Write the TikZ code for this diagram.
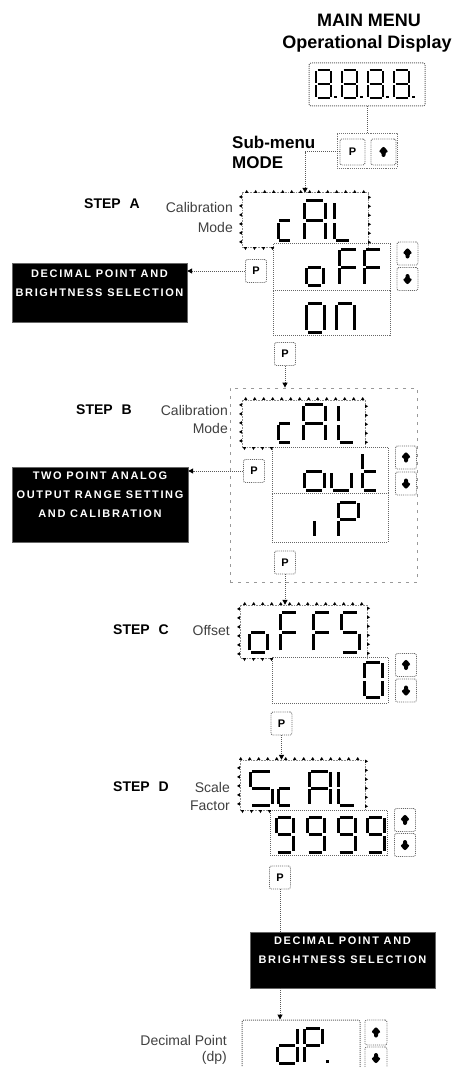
\documentclass[tikz,border=0pt]{standalone}
\usepackage{fontspec}
\setmainfont{Liberation Sans}
\newfontfamily\boxfont{Liberation Sans}[LetterSpace=15]
\usetikzlibrary{
    positioning,
    arrows.meta,
    decorations.markings
}

% segmentos de un digito (celda unidad)
\def\ssga{(0.1,1) -- (0.9,1)}
\def\ssgb{(1,0.96) -- (1,0.54)}
\def\ssgc{(1,0.46) -- (1,0.04)}
\def\ssgd{(0.1,0) -- (0.9,0)}
\def\ssge{(0,0.04) -- (0,0.46)}
\def\ssgf{(0,0.54) -- (0,0.96)}
\def\ssgg{(0.1,0.5) -- (0.9,0.5)}
\def\ssgp{(1.3,0) -- (1.3,0.08)}

\newcommand\segglyph[5]{%
    \begin{scope}[shift={(#1,#2)}, x=#3pt, y=#4pt]
        \foreach \s in {#5} {
            \edef\segcur{\csname ssg\s\endcsname}
            \draw[segline] \segcur;
        }
    \end{scope}}

\tikzset{
    >={Triangle[width=5pt,length=5pt,color=black]},
    segline/.style={line width=3pt, black},
    conn/.style={draw=black!65, densely dotted, line width=1pt},
    lcd/.style={
        draw=black!60,
        densely dotted,
        line width=1pt,
        inner sep=0pt
    },
    flashnode/.style={inner sep=0pt},
    flash/.style={
        draw=black!45,
        densely dotted,
        line width=0.6pt,
        postaction={decorate, decoration={markings,
            mark=between positions 0 and 1 step 9pt with
            {\fill[black] (-1.7pt,0) -- (1.7pt,0) -- (0,2.8pt) -- cycle;}}}
    },
    btn/.style={
        draw=black!60,
        densely dotted,
        line width=0.9pt,
        rounded corners=2pt,
        minimum width=21,
        minimum height=23,
        inner sep=0pt,
        font=\fontsize{11}{12}\selectfont\bfseries
    },
    upbtn/.style={btn, path picture={
        \fill[black] ([shift={(0,-6)}]path picture bounding box.center)
            -- ++(5,6) -- ++(-3,0) -- ++(0,5) -- ++(-4,0)
            -- ++(0,-5) -- ++(-3,0) -- cycle;}},
    dnbtn/.style={btn, path picture={
        \fill[black] ([shift={(0,6)}]path picture bounding box.center)
            -- ++(5,-6) -- ++(-3,0) -- ++(0,-5) -- ++(-4,0)
            -- ++(0,5) -- ++(-3,0) -- cycle;}},
    btngrp/.style={draw=black!55, densely dotted, line width=0.9pt},
    stepgrp/.style={draw=black!40, dash pattern=on 3pt off 5pt, line width=0.8pt},
    blackbox/.style={
        fill=black,
        draw=black!60,
        text=white,
        align=center,
        inner sep=0pt,
        font=\boxfont\fontsize{11}{19}\selectfont\bfseries
    },
    headlabel/.style={font=\fontsize{18}{20}\selectfont\bfseries, inner sep=0pt},
    sublabel/.style={font=\fontsize{17}{19}\selectfont\bfseries, inner sep=0pt, anchor=west},
    steplabel/.style={font=\fontsize{14}{16}\selectfont\bfseries, inner sep=0pt},
    thinlabel/.style={font=\fontsize{14}{16}\selectfont, text=black!75, anchor=east, inner sep=0pt}
}

\begin{document}
\begin{tikzpicture}[x=1pt, y=-1pt]

    \useasboundingbox (0,0) rectangle (453,1067);

    % Menu principal
    \node[headlabel] (mainmenu) at (369,20) {MAIN MENU};
    \node[headlabel] (opdisp)   at (367,44) {Operational Display};

    \node[lcd, rounded corners=2pt, minimum width=116, minimum height=43] (disp) at (367,84.5) {};

    \node[btngrp, minimum width=60, minimum height=35] (grpbtn) at (367,150.5) {};
    \node[btn, minimum width=25, minimum height=26]    (pmain)  at (352.5,152) {P};
    \node[upbtn, minimum width=25, minimum height=26]  (upmain) at (383.5,152) {};

    \node[sublabel] (submenu) at (232,142) {Sub-menu};
    \node[sublabel] (mode)    at (232,163) {MODE};

    % Paso A
    \node[steplabel] (stepa) at (112,204) {STEP\hspace{9pt}A};
    \node[thinlabel] (cala)  at (233,207) {Calibration};
    \node[thinlabel] (modea) at (233,227) {Mode};

    \node[flashnode, minimum width=126, minimum height=54] (calA) at (305,220) {};
    \node[lcd, minimum width=117, minimum height=46] (offA) at (331.5,267) {};
    \node[lcd, minimum width=117, minimum height=45] (onA)  at (331.5,312.5) {};
    \node[upbtn] (upA) at (407.5,253.5) {};
    \node[dnbtn] (dnA) at (407.5,279) {};
    \node[btn]   (pA)  at (256,271) {P};
    \node[blackbox, minimum width=175, minimum height=59] (dpbA) at (99.5,292.5)
        {DECIMAL POINT AND\\BRIGHTNESS SELECTION\\ \mbox{}};
    \node[btn]   (pA2) at (285,354) {P};

    % Paso B
    \node[stepgrp, minimum width=187, minimum height=194] (grpB) at (323.5,485) {};
    \node[steplabel] (stepb) at (104,410) {STEP\hspace{9pt}B};
    \node[thinlabel] (calb)  at (228,410) {Calibration};
    \node[thinlabel] (modeb) at (228,428) {Mode};

    \node[flashnode, minimum width=123, minimum height=47] (calB) at (303.5,423.5) {};
    \node[lcd, minimum width=116, minimum height=46] (outB) at (330,470) {};
    \node[lcd, minimum width=116, minimum height=49] (ipB)  at (330,517.5) {};
    \node[upbtn] (upB) at (406,457.5) {};
    \node[dnbtn] (dnB) at (406,483.5) {};
    \node[btn]   (pB)  at (254,471) {P};
    \node[blackbox, minimum width=176, minimum height=75] (tpaB) at (100,504.5)
        {TWO POINT ANALOG\\OUTPUT RANGE SETTING\\AND CALIBRATION\\ \mbox{}};
    \node[btn]   (pB2) at (285,562.5) {P};

    % Paso C
    \node[steplabel] (stepc) at (141,630) {STEP\hspace{9pt}C};
    \node[thinlabel] (offc)  at (230,630) {Offset};

    \node[flashnode, minimum width=127, minimum height=53] (offsC) at (303.5,631.5) {};
    \node[lcd, minimum width=116, minimum height=46] (zeroC) at (330,680) {};
    \node[upbtn] (upC) at (406,665) {};
    \node[dnbtn] (dnC) at (406,690.5) {};
    \node[btn]   (pC)  at (281.5,723.5) {P};

    % Paso D
    \node[steplabel] (stepd)  at (141,787) {STEP\hspace{9pt}D};
    \node[thinlabel] (scaled) at (230,787) {Scale};
    \node[thinlabel] (factd)  at (230,806) {Factor};

    \node[flashnode, minimum width=125, minimum height=50] (scalD) at (302.5,785) {};
    \node[lcd, minimum width=117, minimum height=45] (nineD) at (328.5,832.5) {};
    \node[upbtn] (upD) at (405,820) {};
    \node[dnbtn] (dnD) at (405,845) {};
    \node[btn]   (pD)  at (280,877.5) {P};
    \node[blackbox, minimum width=185, minimum height=56] (dpbD) at (342.5,960)
        {DECIMAL POINT AND\\BRIGHTNESS SELECTION\\ \mbox{}};

    % Punto decimal
    \node[thinlabel] (decpt) at (227,1040) {Decimal Point};
    \node[thinlabel] (decdp) at (227,1058) {(dp)};
    \node[lcd, rounded corners=2pt, minimum width=118, minimum height=50] (dpE) at (301,1045) {};
    \node[upbtn, minimum width=22, minimum height=25] (upE) at (376,1032.5) {};
    \node[dnbtn, minimum width=22, minimum height=22] (dnE) at (376,1058) {};

    % Marcos intermitentes
    \path[flash] (calA.south -| offA.west) -- (calA.south west) -- (calA.north west)
        -- (calA.north east) -- (calA.south east);
    \path[flash] (calB.south -| outB.west) -- (calB.south west) -- (calB.north west)
        -- (calB.north east) -- (calB.south east);
    \path[flash] (offsC.south -| zeroC.west) -- (offsC.south west) -- (offsC.north west)
        -- (offsC.north east) -- (offsC.south east);
    \path[flash] (scalD.south -| nineD.west) -- (scalD.south west) -- (scalD.north west)
        -- (scalD.north east) -- (scalD.south east);

    % Digitos
    \begin{scope}[segline/.append style={line width=2.4pt}]
        \foreach \gx in {316,342,368,394} {\segglyph{\gx}{98}{15}{28}{a,b,c,d,e,f,g,p}}
    \end{scope}

    \segglyph{278}{241}{13}{40}{g,e,d}
    \segglyph{304}{241}{21}{40}{a,b,c,e,f,g}
    \segglyph{334}{241}{17}{40}{f,e,d}
    \segglyph{306}{285}{17}{36}{g,c,d,e}
    \segglyph{339}{285}{19}{36}{a,f,e,g}
    \segglyph{364}{285}{18}{36}{a,f,e,g}
    \segglyph{306}{332}{18}{58}{g,c,d,e}
    \segglyph{336}{332}{18}{58}{g,e,c}

    \segglyph{278}{442}{13}{38}{g,e,d}
    \segglyph{303}{442}{22}{38}{a,b,c,e,f,g}
    \segglyph{338}{442}{17}{38}{f,e,d}
    \segglyph{304}{490}{20}{38}{g,c,d,e}
    \segglyph{331}{490}{20}{38}{e,d,c}
    \segglyph{362}{490}{16}{38}{f,e,d,g}
    \segglyph{314}{537}{14}{35}{e}
    \segglyph{338}{537}{20}{35}{a,b,f,g,e}

    \segglyph{249}{652}{18}{40}{g,c,d,e}
    \segglyph{280}{652}{18}{40}{a,f,e,g}
    \segglyph{313}{652}{18}{40}{a,f,e,g}
    \segglyph{341}{652}{18}{40}{a,f,g,c,d}
    \segglyph{364}{697}{18}{35}{a,b,c,d,e,f}

    \segglyph{250}{805}{22}{34}{a,f,g,c,d}
    \segglyph{278}{805}{13}{34}{g,e,d}
    \segglyph{309}{805}{21}{34}{a,b,c,e,f,g}
    \segglyph{338}{805}{18}{34}{f,e,d}
    \foreach \gx in {276,307,338,367} {\segglyph{\gx}{852}{17}{35}{a,b,c,d,f,g}}

    \segglyph{277}{1063}{20}{35}{b,c,d,e,g}
    \segglyph{304}{1063}{18}{35}{a,b,f,g,e,p}

    % Conexiones
    \draw[conn] (disp.south) -- (grpbtn.north);
    \draw[conn, ->] (pmain.west) -| (calA.north);
    \draw[conn, ->] (pA.west) -- (pA.west -| dpbA.east);
    \draw[conn, ->] (pA2.south) -- (pA2.south |- grpB.north);
    \draw[conn, ->] (pB.west) -- (pB.west -| tpaB.east);
    \draw[conn, ->] (pB2.south) -- (pB2.south |- offsC.north);
    \draw[conn, ->] (pC.south) -- (pC.south |- scalD.north);
    \draw[conn] (pD.south) -- (pD.south |- dpbD.north);
    \draw[conn, ->] (pD.south |- dpbD.south) -- (pD.south |- dpE.north);

\end{tikzpicture}
\end{document}
